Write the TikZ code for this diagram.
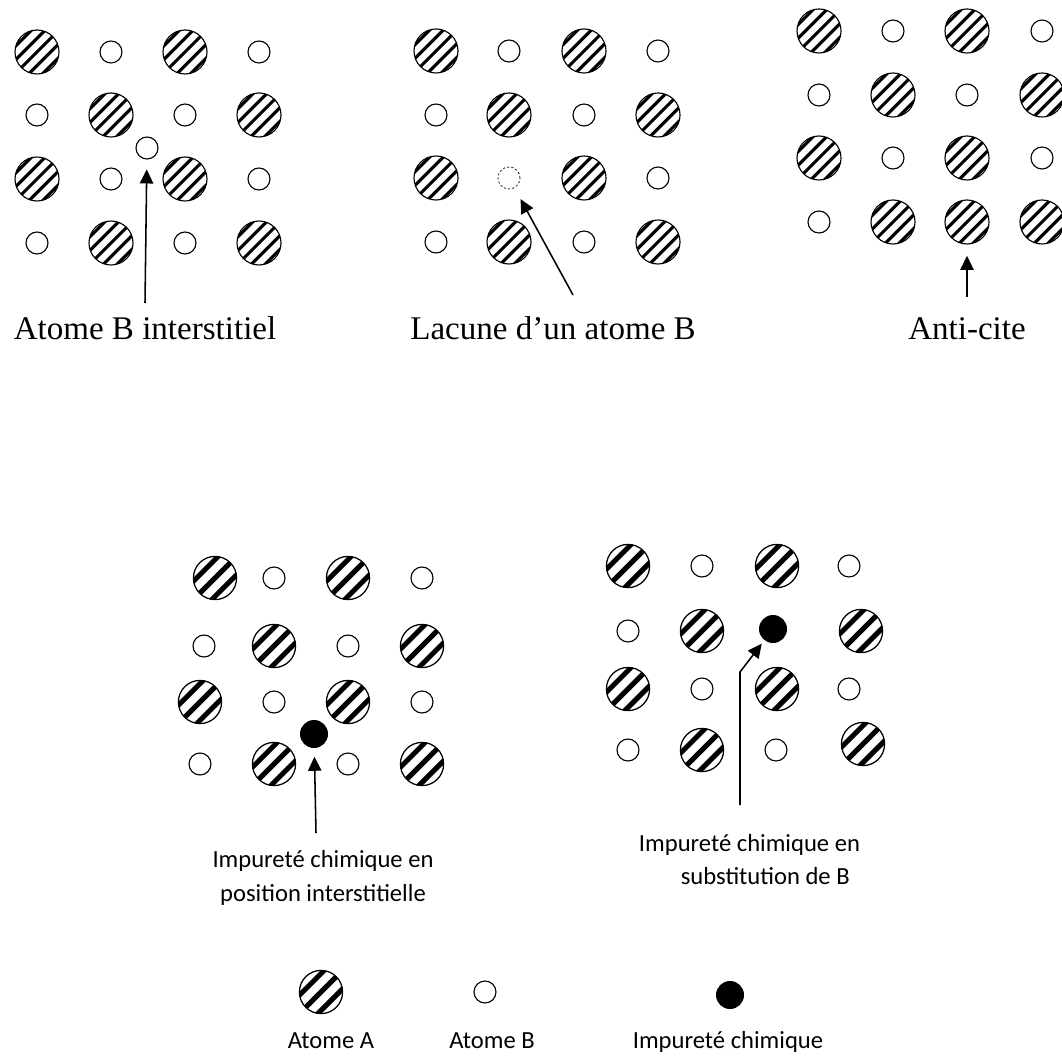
\documentclass[tikz,border=0pt]{standalone}
\usepackage{fontspec}
\newfontfamily\calibf{Carlito}
\newfontfamily\timesf{Liberation Serif}
\usetikzlibrary{positioning,calc,arrows,arrows.meta}
\tikzset{
	atomA/.style={circle, draw, line width=0.8pt, minimum size=1.1cm, inner sep=0pt,
		path picture={\foreach \dx/\dy in {-0.34/0.34, -0.17/0.17, 0/0, 0.17/-0.17, 0.34/-0.34}
			\draw[line width=2.2pt] (path picture bounding box.center) ++(\dx cm-1cm,\dy cm-1cm) -- ++(2cm,2cm);}},
	atomAb/.style={circle, draw, line width=0.9pt, minimum size=1.08cm, inner sep=0pt,
		path picture={\foreach \dx/\dy in {-0.23/0.23, 0/0, 0.23/-0.23}
			\draw[line width=3.6pt] (path picture bounding box.center) ++(\dx cm-1cm,\dy cm-1cm) -- ++(2cm,2cm);}},
	atomB/.style={circle, draw, line width=0.8pt, minimum size=0.55cm, inner sep=0pt},
	vac/.style={circle, draw, dash pattern=on 1.5pt off 1.5pt, line width=0.5pt, minimum size=0.55cm, inner sep=0pt},
	imp/.style={circle, fill=black, minimum size=0.7cm, inner sep=0pt},
	lbl/.style={font=\timesf\fontsize{23.5}{28}\selectfont, anchor=base},
	lbls/.style={font=\calibf\fontsize{17.5}{24}\selectfont},
	fleche/.style={-{Triangle[length=10pt,width=9.5pt]}, line width=1.1pt}
}

\begin{document}
\begin{tikzpicture}[x=0.025cm, y=-0.025cm]
	\useasboundingbox (0,0) rectangle (1061,1062);

	% atome B interstitiel
	\foreach \n/\x/\y/\t in {11/37/52/atomA, 12/111/52/atomB, 13/185/52/atomA, 14/259/52/atomB,
		21/37/115/atomB, 22/111/115/atomA, 23/185/115/atomB, 24/259/115/atomA,
		31/37/179/atomA, 32/111/179/atomB, 33/185/179/atomA, 34/259/179/atomB,
		41/37/243/atomB, 42/111/243/atomA, 43/185/243/atomB, 44/259/243/atomA}
		\node[\t] (a\n) at (\x,\y) {};
	\node[atomB] (ai) at (147,148) {};
	\coordinate (s1) at (145,303);
	\node[lbl] (t1) at (145,340) {Atome B interstitiel};
	\draw[fleche, shorten >=7pt] (s1) -- (ai);

	% lacune
	\foreach \n/\x/\y/\t in {11/436/51/atomA, 12/509/51/atomB, 13/584/51/atomA, 14/658/51/atomB,
		21/436/115/atomB, 22/509/115/atomA, 23/584/115/atomB, 24/658/115/atomA,
		31/436/178/atomA, 32/509/178/vac, 33/584/178/atomA, 34/658/178/atomB,
		41/436/242/atomB, 42/509/242/atomA, 43/584/242/atomB, 44/658/242/atomA}
		\node[\t] (b\n) at (\x,\y) {};
	\coordinate (s2) at (573,295);
	\node[lbl] (t2) at (553,340) {Lacune d’un atome B};
	\draw[fleche, shorten >=9pt] (s2) -- (b32);

	% anti-site
	\foreach \n/\x/\y/\t in {11/819/31/atomA, 12/893/31/atomB, 13/967/31/atomA, 14/1042/31/atomB,
		21/819/95/atomB, 22/893/95/atomA, 23/967/95/atomB, 24/1042/95/atomA,
		31/819/158/atomA, 32/893/158/atomB, 33/967/158/atomA, 34/1042/158/atomB,
		41/819/222/atomB, 42/893/222/atomA, 43/967/222/atomA, 44/1042/222/atomA}
		\node[\t] (c\n) at (\x,\y) {};
	\coordinate (s3) at (967,297);
	\node[lbl] (t3) at (967,340) {Anti-cite};
	\draw[fleche, shorten >=8pt] (s3) -- (c43);

	% impurete interstitielle
	\foreach \n/\x/\y/\t in {11/215/578/atomAb, 12/274/578/atomB, 13/348/578/atomAb, 14/422/578/atomB,
		21/204/646/atomB, 22/274/646/atomAb, 23/348/646/atomB, 24/422/646/atomAb,
		31/200/702/atomAb, 32/274/702/atomB, 33/348/702/atomAb, 34/422/702/atomB,
		41/200/764/atomB, 42/274/764/atomAb, 43/348/764/atomB, 44/422/764/atomAb}
		\node[\t] (d\n) at (\x,\y) {};
	\node[imp] (di) at (314,734) {};
	\coordinate (s4) at (316,833);
	\node[lbls, align=center] (t4) at (323,878) {Impureté chimique en\\position interstitielle};
	\draw[fleche, shorten >=6pt] (s4) -- (di);

	% impurete en substitution
	\foreach \n/\x/\y/\t in {11/628/566/atomAb, 12/702/566/atomB, 13/777/566/atomAb, 14/849/566/atomB,
		21/628/631/atomB, 22/702/631/atomAb, 24/861/631/atomAb,
		31/628/689/atomAb, 32/702/689/atomB, 33/777/689/atomAb, 34/849/689/atomB,
		41/628/750/atomB, 42/702/750/atomAb, 43/776/750/atomB, 44/863/744/atomAb}
		\node[\t] (e\n) at (\x,\y) {};
	\node[imp] (ei) at (773,629) {};
	\coordinate (s5) at (740,805);
	\coordinate (k5) at (740,672);
	\node[lbls, align=left, anchor=north west] (t5) at (634,829) {Impureté chimique en\\\hspace*{1.7em}substitution de B};
	\draw[fleche, shorten >=3pt] (s5) -- (k5) -- (ei);

	% legende
	\node[atomAb] (ga) at (321,992) {};
	\node[atomB] (gb) at (485,992) {};
	\node[imp] (gi) at (730,995) {};
	\node[lbls, anchor=base] (la) at (331,1048) {Atome A};
	\node[lbls, anchor=base] (lb) at (492,1048) {Atome B};
	\node[lbls, anchor=base] (li) at (728,1048) {Impureté chimique};
\end{tikzpicture}
\end{document}
